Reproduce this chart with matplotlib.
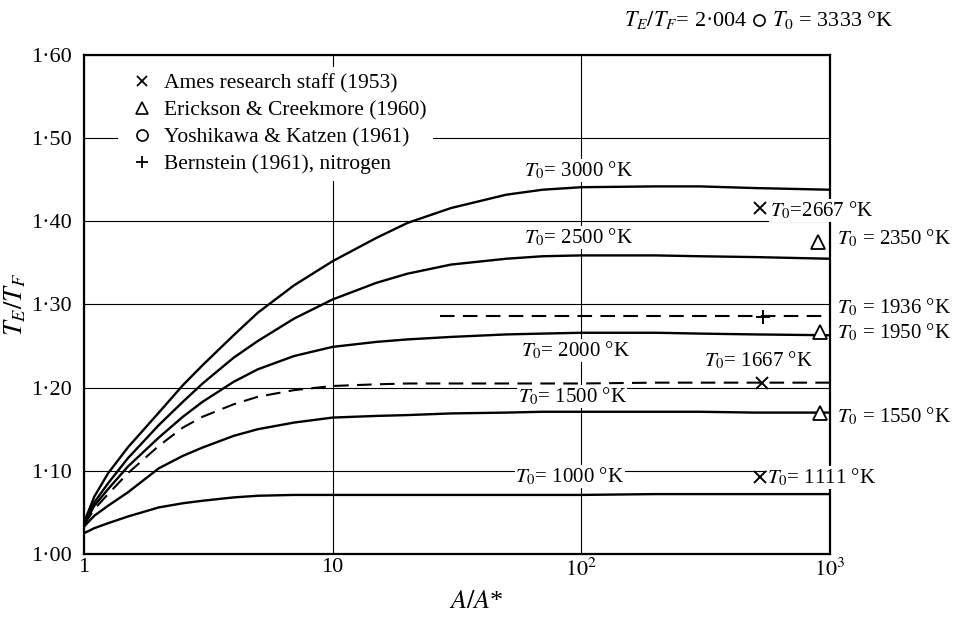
import numpy as np
import matplotlib
matplotlib.use('Agg')
import matplotlib.pyplot as plt
from matplotlib.lines import Line2D
from matplotlib.ticker import FixedLocator, FixedFormatter, NullLocator

plt.rcParams['font.family'] = ['Liberation Serif', 'DejaVu Serif']
plt.rcParams['mathtext.fontset'] = 'stix'

# area ratio A/A*
ratio = [1, 1.1, 1.25, 1.5, 2, 2.5, 3, 4, 5, 7, 10, 15, 20, 30, 50, 70, 100, 200, 300, 500, 1000]

# T_E/T_F for each stagnation temperature
t3000 = [1.038, 1.069, 1.097, 1.128, 1.170, 1.203, 1.227, 1.263, 1.290, 1.323, 1.352,
         1.380, 1.398, 1.416, 1.432, 1.438, 1.441, 1.442, 1.442, 1.440, 1.438]
t2500 = [1.037, 1.062, 1.085, 1.115, 1.155, 1.183, 1.205, 1.236, 1.256, 1.283, 1.306,
         1.326, 1.337, 1.348, 1.355, 1.358, 1.359, 1.359, 1.358, 1.357, 1.355]
t2000 = [1.036, 1.058, 1.078, 1.105, 1.140, 1.165, 1.183, 1.207, 1.222, 1.238, 1.249,
         1.255, 1.258, 1.261, 1.264, 1.265, 1.266, 1.266, 1.265, 1.264, 1.263]
t1667 = [1.035, 1.054, 1.072, 1.097, 1.130, 1.152, 1.165, 1.180, 1.189, 1.197, 1.202,
         1.204, 1.205, 1.205, 1.205, 1.205, 1.205, 1.206, 1.206, 1.206, 1.206]
t1500 = [1.033, 1.046, 1.058, 1.074, 1.103, 1.118, 1.128, 1.142, 1.150, 1.158, 1.164,
         1.166, 1.167, 1.169, 1.170, 1.171, 1.171, 1.171, 1.171, 1.170, 1.170]
t1000 = [1.025, 1.031, 1.037, 1.045, 1.056, 1.061, 1.064, 1.068, 1.070, 1.071, 1.071,
         1.071, 1.071, 1.071, 1.071, 1.071, 1.071, 1.072, 1.072, 1.072, 1.072]

# nitrogen line (dashed, short)
ratio_1936 = [27, 1000]
t1936 = [1.286, 1.286]

solid_curves = [t3000, t2500, t2000, t1500, t1000]
solid_names = ['3000', '2500', '2000', '1500', '1000']
label_x = [98, 98, 95, 92, 90]
label_y = [1.4615, 1.381, 1.245, 1.189, 1.093]

# experimental points
ames_x = [525, 535, 525]
ames_y = [1.416, 1.206, 1.092]
erick_x = [900, 916, 916]
erick_y = [1.375, 1.267, 1.1695]
bern_x = [540]
bern_y = [1.285]
yosh_x = [520]
yosh_y = [1.642]

# point labels (text, x, y, ha)
point_labels = [
    ('$T_0$=2667 °K', 575, 1.413, 'left'),
    ('$T_0$ = 2350 °K', 1072, 1.380, 'left'),
    ('$T_0$ = 1936 °K', 1072, 1.296, 'left'),
    ('$T_0$ = 1950 °K', 1072, 1.266, 'left'),
    ('$T_0$= 1667 °K', 859, 1.233, 'right'),
    ('$T_0$ = 1550 °K', 1072, 1.165, 'left'),
    ('$T_0$= 1111 °K', 561, 1.0925, 'left'),
]

legend_labels = ['Ames research staff (1953)', 'Erickson & Creekmore (1960)',
                 'Yoshikawa & Katzen (1961)', 'Bernstein (1961), nitrogen']

y_ticks = [1.0, 1.1, 1.2, 1.3, 1.4, 1.5, 1.6]
y_ticklabels = ['1·00', '1·10', '1·20', '1·30', '1·40', '1·50', '1·60']
x_ticks = [1, 10, 100, 1000]
x_ticklabels = ['1', '10', '$10^2$', '$10^3$']

fig = plt.figure(figsize=(9.58, 6.2), dpi=100)
ax = fig.add_axes([0.0877, 0.1065, 0.7782, 0.8048])
ax.set_xscale('log')
ax.set_xlim(1, 1000)
ax.set_ylim(1.0, 1.6)

ax.xaxis.set_major_locator(FixedLocator(x_ticks))
ax.xaxis.set_major_formatter(FixedFormatter(x_ticklabels))
ax.xaxis.set_minor_locator(NullLocator())
ax.yaxis.set_major_locator(FixedLocator(y_ticks))
ax.yaxis.set_major_formatter(FixedFormatter(y_ticklabels))
ax.tick_params(length=0, labelsize=16)
ax.tick_params(axis='y', pad=9)
ax.tick_params(axis='x', pad=3)
ax.set_axisbelow(True)
ax.grid(True, color='black', lw=0.8)
for s in ax.spines.values():
    s.set_linewidth(1.6)

for vals in solid_curves:
    ax.plot(ratio, vals, color='black', lw=1.7, zorder=2)
ax.plot(ratio, t1667, color='black', lw=1.5, dashes=(7, 4), zorder=2)
ax.plot(ratio_1936, t1936, color='black', lw=1.5, dashes=(7, 4), zorder=2)

for name, lx, ly in zip(solid_names, label_x, label_y):
    ax.text(lx, ly, '$T_0$= ' + name + ' °K', fontsize=15, ha='center', va='center',
            bbox=dict(facecolor='white', edgecolor='none', pad=0.5), zorder=3)

for txt, tx, ty, ha in point_labels:
    ax.text(tx, ty, txt, fontsize=15, ha=ha, va='center', clip_on=False,
            bbox=dict(facecolor='white', edgecolor='none', pad=0.5), zorder=4)

ax.plot(ames_x, ames_y, ls='none', marker='x', color='black', ms=8, mew=1.4,
        clip_on=False, zorder=6)
ax.plot(erick_x, erick_y, ls='none', marker='^', mfc='white', mec='black', ms=10,
        mew=1.3, clip_on=False, zorder=6)
ax.plot(bern_x, bern_y, ls='none', marker='+', color='black', ms=10, mew=1.4,
        clip_on=False, zorder=6)
ax.plot(yosh_x, yosh_y, ls='none', marker='o', mfc='none', mec='black', ms=8,
        mew=1.2, clip_on=False, zorder=6)
ax.text(470, 1.642, '$T_E/T_F$= 2·004', fontsize=16, ha='right', va='center', clip_on=False)
ax.text(585, 1.642, '$T_0$ = 3333 °K', fontsize=16, ha='left', va='center', clip_on=False)

handles = [
    Line2D([], [], ls='none', marker='x', color='black', ms=7, mew=1.3),
    Line2D([], [], ls='none', marker='^', mfc='none', mec='black', ms=9, mew=1.2),
    Line2D([], [], ls='none', marker='o', mfc='none', mec='black', ms=8, mew=1.2),
    Line2D([], [], ls='none', marker='+', color='black', ms=9, mew=1.3),
]
leg = ax.legend(handles, legend_labels, loc='upper left', bbox_to_anchor=(0.046, 0.976),
                borderaxespad=0, frameon=True, fancybox=False, edgecolor='none',
                facecolor='white', framealpha=1, fontsize=15.5, labelspacing=0.32,
                handlelength=1.6, handletextpad=0.2, borderpad=0.3)
leg.set_zorder(5)

ax.set_xlabel('$A/A$*', fontsize=19)
ax.xaxis.set_label_coords(0.526, -0.074)
ax.set_ylabel('$T_E/T_F$', fontsize=19)
ax.yaxis.set_label_coords(-0.075, 0.5)

fig.savefig('out.png', dpi=100)
